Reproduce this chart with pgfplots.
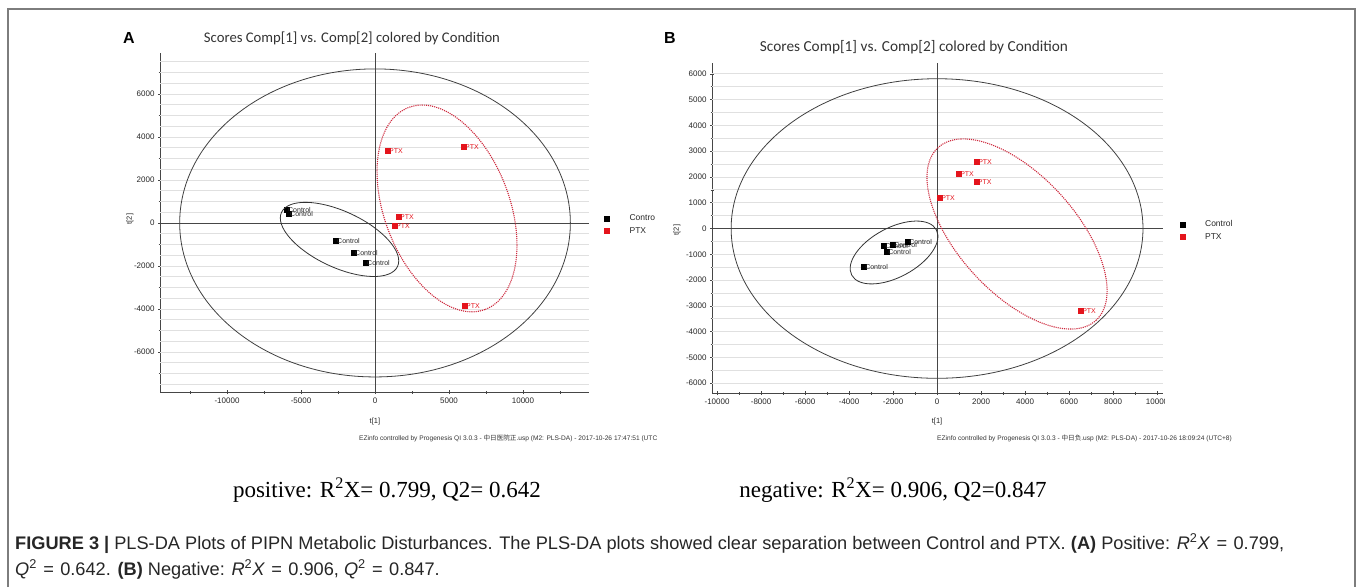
\documentclass[border=0pt]{standalone}
\usepackage{fontspec}
\setmainfont{Liberation Sans}
\newfontfamily\calibri{Carlito}
\newfontfamily\timesf{Liberation Serif}
\newfontfamily\cjk{Noto Sans CJK SC}
\usepackage{pgfplots}
\pgfplotsset{compat=1.18}
\definecolor{ptxred}{RGB}{228,20,28}
\definecolor{ellred}{RGB}{205,40,60}
\definecolor{gridc}{RGB}{224,224,224}
\definecolor{axc}{RGB}{70,70,70}
\definecolor{framec}{RGB}{125,125,125}
\newcommand{\eq}{\hspace{0.35em}=\hspace{0.35em}}
\pgfplotsset{
  /pgf/number format/1000 sep={},
  /pgf/number format/assume math mode=true,
  pls/.style={
    scale only axis, anchor=south west,
    axis lines=left,
    axis line style={-, axc, line width=0.8pt},
    every outer x axis line/.append style={-},
    every outer y axis line/.append style={-},
    scaled x ticks=false, scaled y ticks=false,
    tick align=center, major tick length=4pt, minor tick length=3pt,
    tick style={axc, line width=0.6pt},
    ticklabel style={font=\fontsize{8}{9}\selectfont, text=black!85},
    xlabel={t[1]}, ylabel={t[2]},
    label style={font=\fontsize{7.5}{8}\selectfont, text=black!85},
    extra y tick style={major tick length=0pt, grid=major,
      major grid style={gridc, line width=0.7pt}, yticklabel={}},
    legend style={draw=none, fill=none, inner sep=0pt, row sep=1pt,
      font=\fontsize{8.5}{10}\selectfont, text=black!85},
    legend cell align=left,
    legend image code/.code={\draw[##1] plot coordinates {(2.5pt,0pt)}; \path (0pt,-3pt) (23pt,3pt);},
  },
  ctrl/.style={only marks, mark=square*, mark size=2.4pt, black,
    nodes near coords={Control},
    every node near coord/.append style={anchor=west, font=\fontsize{7}{8}\selectfont, text=black!85, inner sep=1pt}},
  ptx/.style={only marks, mark=square*, mark size=2.4pt, ptxred,
    nodes near coords={PTX},
    every node near coord/.append style={anchor=west, font=\fontsize{7}{8}\selectfont, text=ptxred, inner sep=1pt}},
}
\begin{document}
\begin{tikzpicture}
\useasboundingbox (0pt,0pt) rectangle (1357pt,587pt);
\draw[framec, line width=1.5pt] (8pt,0pt) -- (8pt,578pt) -- (1355pt,578pt) -- (1355pt,0pt);

% ---------- panel A (positive) ----------
\begin{axis}[pls,
  at={(160pt,195pt)}, width=429pt, height=339pt,
  xmin=-14530, xmax=14460, ymin=-7860, ymax=7900,
  xtick={-10000,-5000,0,5000,10000},
  minor xtick={-12500,-7500,-2500,2500,7500,12500},
  ytick={-6000,-4000,...,6000},
  minor ytick={-7000,-5000,...,7000},
  extra y ticks={-7500,-7000,...,7500},
  xlabel style={at={(axis description cs:0.501,-0.0885)}, anchor=center},
  ylabel style={at={(axis description cs:-0.07,0.51)}, anchor=center},
  legend style={at={(1,0.493)}, anchor=west, xshift=15pt},
]
\addplot[ctrl] coordinates {(-5950,600) (-5810,420) (-2635,-837) (-1420,-1395) (-608,-1860)};
\addlegendentry{Contro}
\addplot[ptx] coordinates {(878,3350) (6014,3535) (1622,279) (1351,-140) (6081,-3860)};
\addlegendentry{PTX}
\draw[axc, line width=0.7pt] (axis cs:0,-7860) -- (axis cs:0,7900);
\draw[axc, line width=0.7pt] (axis cs:-14530,0) -- (axis cs:14460,0);
\draw[black!75, line width=0.8pt] (axis cs:0,0) ellipse [x radius=13200, y radius=7160];
\coordinate (cA1) at (axis cs:-2399,-767);
\coordinate (cA2) at (axis cs:4865,674);
\end{axis}
\draw[black!80, line width=0.8pt, rotate around={-25:(cA1)}] (cA1) ellipse [x radius=64pt, y radius=28pt];
\draw[ellred, densely dotted, line width=1.1pt, rotate around={-69.2:(cA2)}] (cA2) ellipse [x radius=108pt, y radius=62.6pt];

% ---------- panel B (negative) ----------
\begin{axis}[pls,
  at={(712pt,194pt)}, width=451pt, height=330pt,
  xmin=-10230, xmax=10270, ymin=-6380, ymax=6420,
  xtick={-10000,-8000,...,10000},
  minor xtick={-9000,-7000,...,9000},
  ytick={-6000,-5000,...,6000},
  minor ytick={-5500,-4500,...,5500},
  extra y ticks={-6000,-5500,...,6000},
  xlabel style={at={(axis description cs:0.499,-0.088)}, anchor=center},
  ylabel style={at={(axis description cs:-0.078,0.494)}, anchor=center},
  legend style={at={(1,0.492)}, anchor=west, xshift=16.5pt},
]
\addplot[ctrl] coordinates {(-2409,-678) (-2000,-640) (-1318,-523) (-2273,-911) (-3318,-1492)};
\addlegendentry{Control}
\addplot[ptx] coordinates {(1818,2578) (1000,2112) (1803,1802) (136,1182) (6545,-3198)};
\addlegendentry{PTX}
\draw[axc, line width=0.7pt] (axis cs:0,-6380) -- (axis cs:0,6420);
\draw[axc, line width=0.7pt] (axis cs:-10230,0) -- (axis cs:10270,0);
\draw[black!75, line width=0.8pt] (axis cs:0,0) ellipse [x radius=9360, y radius=5810];
\coordinate (cB1) at (axis cs:-1955,-930);
\coordinate (cB2) at (axis cs:3636,-213);
\end{axis}
\draw[black!80, line width=0.8pt, rotate around={28.2:(cB1)}] (cB1) ellipse [x radius=48pt, y radius=24.7pt];
\draw[ellred, densely dotted, line width=1.1pt, rotate around={-47.6:(cB2)}] (cB2) ellipse [x radius=117pt, y radius=58.8pt];
\fill[white] (1165pt,174pt) rectangle (1180pt,190pt);

% ---------- titles and texts ----------
\node[font=\bfseries\fontsize{16}{18}\selectfont] at (129pt,549pt) {A};
\node[font=\bfseries\fontsize{16}{18}\selectfont] at (670pt,549pt) {B};
\node[text=black!80] at (352pt,549pt) {\calibri\fontsize{14.7}{16}\selectfont Scores Comp[1] vs. Comp[2] colored by Condition};
\node[text=black!80] at (914pt,540pt) {\calibri\fontsize{15.3}{17}\selectfont Scores Comp[1] vs. Comp[2] colored by Condition};
\node[anchor=west, inner sep=0pt, text=black!80, font=\fontsize{6.6}{7}\selectfont] at (359pt,149pt)
  {EZinfo controlled by Progenesis QI 3.0.3 - {\cjk 中日医院正}.usp (M2: PLS-DA) - 2017-10-26 17:47:51 (UTC};
\node[anchor=west, inner sep=0pt, text=black!80, font=\fontsize{6.6}{7}\selectfont] at (937pt,149pt)
  {EZinfo controlled by Progenesis QI 3.0.3 - {\cjk 中日负}.usp (M2: PLS-DA) - 2017-10-26 18:09:24 (UTC+8)};
\node at (387pt,97pt) {\timesf\fontsize{23}{25}\selectfont positive: R\textsuperscript{2}X= 0.799, Q2= 0.642};
\node at (893pt,97pt) {\timesf\fontsize{23}{25}\selectfont negative: R\textsuperscript{2}X= 0.906, Q2=0.847};
\node[anchor=base west, inner sep=0pt, font=\fontsize{18.2}{20}\selectfont, text=black!85] at (15pt,38pt)
  {\textbf{FIGURE 3 |} PLS-DA Plots of PIPN Metabolic Disturbances. The PLS-DA plots showed clear separation between Control and PTX. \textbf{(A)} Positive: \textit{R}\textsuperscript{2}\textit{X}\eq 0.799,};
\node[anchor=base west, inner sep=0pt, font=\fontsize{18.2}{20}\selectfont, text=black!85] at (15pt,12pt)
  {\textit{Q}\textsuperscript{2}\eq 0.642. \textbf{(B)} Negative: \textit{R}\textsuperscript{2}\textit{X}\eq 0.906, \textit{Q}\textsuperscript{2}\eq 0.847.};
\end{tikzpicture}
\end{document}
